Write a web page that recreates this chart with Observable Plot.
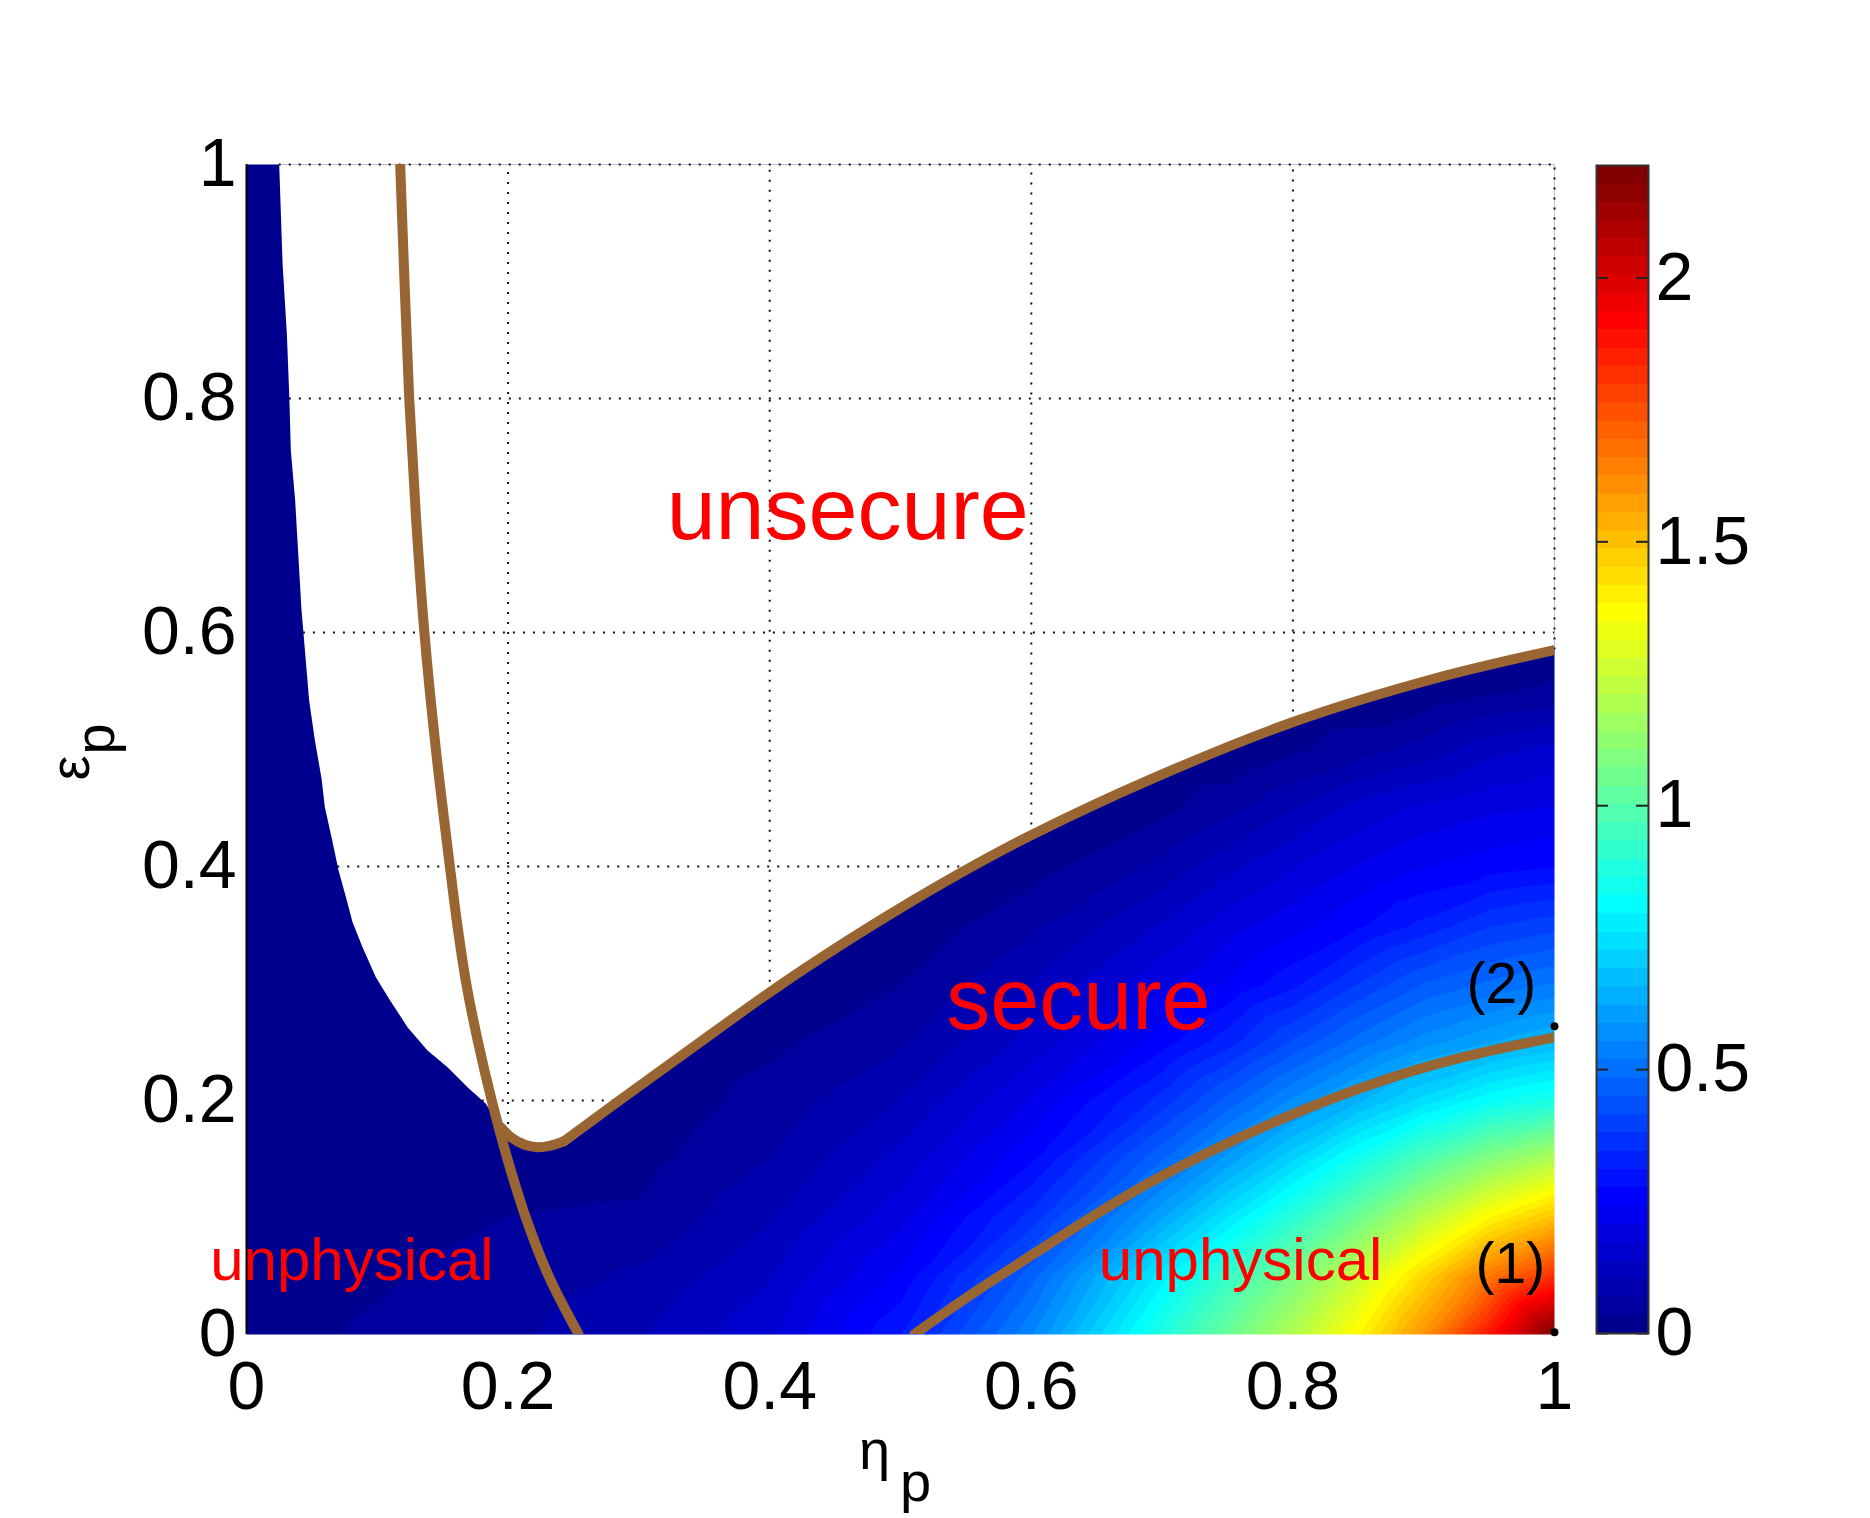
<!DOCTYPE html>
<html><head><meta charset="utf-8">
<script src="https://cdn.jsdelivr.net/npm/d3@7"></script>
<script src="https://cdn.jsdelivr.net/npm/@observablehq/plot@0.6"></script>
<style>
html,body{margin:0;padding:0;background:#fff;}
#wrap{display:flex;width:1870px;height:1518px;overflow:hidden;}
#wrap svg{flex:none;}
</style></head>
<body><div id="wrap"></div>
<script>
// ---------- data ----------
const etaGrid = [0, 0.1, 0.2, 0.3, 0.4, 0.5, 0.6, 0.7, 0.75, 0.8, 0.85, 0.9, 0.95, 1];
const epsGrid = [0, 0.05, 0.1, 0.15, 0.2, 0.25, 0.3, 0.35, 0.4, 0.45, 0.5, 0.55, 0.6, 0.8, 1];
// colour value at (eta, eps); one row per eps value, one column per eta value
const zValues = [
  [0.02, 0.04, 0.06, 0.10, 0.165, 0.31, 0.55, 0.88, 1.04, 1.2, 1.38, 1.6, 1.88, 2.2],
  [0.015, 0.03, 0.048, 0.075, 0.134, 0.25, 0.47, 0.78, 0.93, 1.08, 1.25, 1.45, 1.66, 1.82],
  [0.01, 0.02, 0.035, 0.04, 0.10, 0.195, 0.36, 0.62, 0.76, 0.9, 1.05, 1.22, 1.38, 1.5],
  [0.005, 0.01, 0.02, 0.022, 0.07, 0.15, 0.27, 0.48, 0.6, 0.72, 0.85, 0.98, 1.1, 1.2],
  [0, 0.005, 0.01, 0.005, 0.049, 0.105, 0.21, 0.36, 0.46, 0.56, 0.65, 0.74, 0.82, 0.87],
  [0, 0, 0, 0, 0.026, 0.064, 0.15, 0.26, 0.33, 0.42, 0.5, 0.57, 0.62, 0.66],
  [0, 0, 0, 0, 0, 0.034, 0.106, 0.20, 0.245, 0.30, 0.38, 0.45, 0.49, 0.52],
  [0, 0, 0, 0, 0, 0.008, 0.061, 0.14, 0.19, 0.23, 0.27, 0.32, 0.375, 0.40],
  [0, 0, 0, 0, 0, 0, 0.019, 0.08, 0.126, 0.17, 0.21, 0.24, 0.26, 0.275],
  [0, 0, 0, 0, 0, 0, 0, 0.024, 0.058, 0.10, 0.15, 0.18, 0.20, 0.21],
  [0, 0, 0, 0, 0, 0, 0, 0, 0, 0.028, 0.054, 0.083, 0.126, 0.15],
  [0, 0, 0, 0, 0, 0, 0, 0, 0, 0, 0, 0.006, 0.028, 0.043],
  [0, 0, 0, 0, 0, 0, 0, 0, 0, 0, 0, 0, 0, 0],
  [0, 0, 0, 0, 0, 0, 0, 0, 0, 0, 0, 0, 0, 0],
  [0, 0, 0, 0, 0, 0, 0, 0, 0, 0, 0, 0, 0, 0]
];
const colorMax = 2.213;               // top of the colour bar
const cbTicks = [0, 0.5, 1, 1.5, 2];
const xTicks = [0, 0.2, 0.4, 0.6, 0.8, 1];
const yTicks = [0, 0.2, 0.4, 0.6, 0.8, 1];

// left edge of the white (unsecure) region
const lbEps = [1.0, 0.915, 0.854, 0.8026, 0.7556, 0.7128, 0.62, 0.5419, 0.5077, 0.475, 0.4507, 0.425, 0.3966,
               0.3709, 0.3524, 0.331, 0.3054, 0.2855, 0.2627, 0.2427, 0.2285, 0.2114, 0.1972];
const lbEta = [0.025, 0.0276, 0.0309, 0.0327, 0.0339, 0.0372, 0.042, 0.0479, 0.0523, 0.0574, 0.0599, 0.065, 0.0704,
               0.0767, 0.0811, 0.0887, 0.0989, 0.1098, 0.1231, 0.1384, 0.1537, 0.169, 0.183];
// brown curve A (descending)
const curveAEta = [0.1175, 0.1208, 0.1244, 0.1295, 0.136, 0.1448, 0.1555, 0.1612, 0.168, 0.177, 0.1875, 0.1995, 0.2135, 0.231, 0.254];
const curveAEps = [1.0, 0.9, 0.8, 0.7, 0.6, 0.5, 0.4, 0.35, 0.3, 0.25, 0.2, 0.15, 0.1, 0.05, 0];
// brown curve C: valley then upper branch
const valleyEta = [0.1944, 0.2021, 0.2122, 0.2225, 0.2326, 0.2428];
const valleyEps = [0.1772, 0.1686, 0.1624, 0.1601, 0.1615, 0.1652];
const upperEta = [0.2428, 0.2938, 0.3574, 0.4, 0.4594, 0.5103, 0.5587, 0.6002, 0.6912, 0.8002, 0.9078, 1.0];
const upperEps = [0.1652, 0.2071, 0.2584, 0.2925, 0.3365, 0.3715, 0.4025, 0.427, 0.4745, 0.5235, 0.5605, 0.585];
// brown curve B (lower)
const curveBEta = [0.5103, 0.55, 0.5867, 0.6887, 0.7905, 0.867, 0.93, 1.0];
const curveBEps = [0, 0.031, 0.058, 0.1288, 0.1838, 0.2165, 0.237, 0.254];

// annotations (baseline positions)
const bigLabels = ["unsecure", "secure"];
const bigEta = [0.4596, 0.636];
const bigEps = [0.6795, 0.2615];
const midLabels = ["unphysical", "unphysical"];
const midEta = [0.0806, 0.76];
const midEps = [0.0462, 0.0462];
const numLabels = ["(2)", "(1)"];
const numEta = [0.9594, 0.9663];
const numEps = [0.283, 0.0444];
const dotEta = [1, 1];
const dotEps = [0.2635, 0.002];

// ---------- derived tables ----------
const zip = (xs, ys) => xs.map((x, i) => ({x, y: ys[i]}));
const points = epsGrid.flatMap((e, i) => etaGrid.map((h, j) => ({eta: h, eps: e, z: zValues[i][j]})));

// MATLAB jet(64)
const jet = d3.range(1, 65).map(i => {
  const r = i <= 24 ? 0 : i <= 40 ? (i - 24) / 16 : i <= 56 ? 1 : (72 - i) / 16;
  const g = i <= 8 ? 0 : i <= 24 ? (i - 8) / 16 : i <= 39 ? 1 : i <= 55 ? (56 - i) / 16 : 0;
  const b = i <= 8 ? (i + 8) / 16 : i <= 23 ? 1 : i <= 39 ? (40 - i) / 16 : 0;
  return `rgb(${Math.round(r * 255)},${Math.round(g * 255)},${Math.round(b * 255)})`;
});
const thresholds = d3.range(1, 64).map(k => k * colorMax / 64);
const colorScale = {type: "threshold", domain: thresholds, range: jet};

function interp(xs, ys, x) {
  const i = Math.max(1, Math.min(xs.length - 1, d3.bisectLeft(xs, x)));
  const t = (x - xs[i - 1]) / (xs[i] - xs[i - 1]);
  return ys[i - 1] + t * (ys[i] - ys[i - 1]);
}
const lbEpsAsc = lbEps.slice().reverse(), lbEtaAsc = lbEta.slice().reverse();
const topEps = upperEps[upperEps.length - 1];
const vGrid = xTicks.filter(g => g > 0).map(g => ({
  x: g, y1: g <= valleyEta[valleyEta.length - 1] ? interp(valleyEta, valleyEps, g) : interp(upperEta, upperEps, g), y2: 1
}));
const hGrid = yTicks.filter(g => g > 0).map(g => ({
  y: g, x1: interp(lbEpsAsc, lbEtaAsc, g), x2: g >= topEps ? 1 : interp(upperEps, upperEta, g)
}));

const whitePoly = [
  ...zip(lbEta, lbEps),
  ...zip(valleyEta, valleyEps),
  ...zip(upperEta, upperEps).slice(1),
  {x: 1, y: 1}
];

const brown = "#996633";
const font = "'Liberation Sans', Arial, Helvetica, sans-serif";
const lab = {fontSize: 56, fill: "#000", textAnchor: "middle", lineAnchor: "middle"};

const main = Plot.plot({
  width: 1580, height: 1518,
  marginLeft: 246, marginRight: 26, marginTop: 164, marginBottom: 184,
  x: {domain: [0, 1]},
  y: {domain: [0, 1]},
  color: colorScale,
  style: {fontFamily: font, background: "white", overflow: "visible"},
  marks: [
    Plot.raster(points, {x: "eta", y: "eps", fill: "z", interpolate: "barycentric",
      x1: 0, x2: 1, y1: 0, y2: 1, pixelSize: 1}),
    Plot.line(whitePoly, {x: "x", y: "y", fill: "white", stroke: "none"}),
    Plot.ruleX(vGrid, {x: "x", y1: "y1", y2: "y2", stroke: "#111", strokeWidth: 2, strokeDasharray: "2,8"}),
    Plot.ruleY(hGrid, {y: "y", x1: "x1", x2: "x2", stroke: "#111", strokeWidth: 2, strokeDasharray: "2,8"}),
    Plot.ruleX([0], {stroke: "#000", strokeWidth: 2}),
    Plot.line(zip(curveAEta, curveAEps), {x: "x", y: "y", stroke: brown, strokeWidth: 10, curve: "catmull-rom", clip: true}),
    Plot.line(zip(valleyEta, valleyEps), {x: "x", y: "y", stroke: brown, strokeWidth: 10, curve: "catmull-rom", clip: true}),
    Plot.line(zip(upperEta, upperEps), {x: "x", y: "y", stroke: brown, strokeWidth: 10, curve: "catmull-rom", clip: true}),
    Plot.line(zip(curveBEta, curveBEps), {x: "x", y: "y", stroke: brown, strokeWidth: 10, curve: "catmull-rom", clip: true}),
    Plot.dot(zip(dotEta, dotEps), {x: "x", y: "y", r: 4, fill: "#000", stroke: "none"}),
    Plot.text(bigLabels, {x: (d, i) => bigEta[i], y: (d, i) => bigEps[i], text: d => d,
      fill: "#ff0000", fontSize: 88, dy: -0.32 * 88}),
    Plot.text(midLabels, {x: (d, i) => midEta[i], y: (d, i) => midEps[i], text: d => d,
      fill: "#ff0000", fontSize: 60, dy: -0.32 * 60}),
    Plot.text(numLabels, {x: (d, i) => numEta[i], y: (d, i) => numEps[i], text: d => d,
      fill: "#000", fontSize: 57, dy: -0.32 * 57}),
    Plot.axisX(xTicks, {tickSize: 0, tickPadding: 26, fontSize: 68, label: null, tickFormat: d => String(d)}),
    Plot.axisY(yTicks, {tickSize: 0, tickPadding: 10, fontSize: 68, label: null, tickFormat: d => String(d)}),
    Plot.text(["η"], {...lab, frameAnchor: "bottom", dx: -26, dy: 1468 - 0.32 * 56 - 1334}),
    Plot.text(["p"], {...lab, frameAnchor: "bottom", dx: 15, dy: 1500 - 0.32 * 56 - 1334}),
    Plot.text(["ε"], {...lab, frameAnchor: "left", rotate: -90, dx: 88 - 0.32 * 56 - 246, dy: 18.5}),
    Plot.text(["p"], {...lab, frameAnchor: "left", rotate: -90, dx: 113 - 0.32 * 56 - 246, dy: -10.5})
  ]
});

const bands = d3.range(64).map(i => ({lo: i * colorMax / 64, hi: (i + 1) * colorMax / 64, mid: (i + 0.5) * colorMax / 64}));
const bar = Plot.plot({
  width: 290, height: 1518,
  marginLeft: 16, marginRight: 222, marginTop: 165, marginBottom: 185,
  x: {domain: [0, 1], axis: null},
  y: {domain: [0, colorMax], axis: null},
  color: colorScale,
  style: {fontFamily: font, background: "white", overflow: "visible"},
  marks: [
    Plot.rect(bands, {x1: 0, x2: 1, y1: "lo", y2: "hi", fill: "mid", shapeRendering: "crispEdges"}),
    Plot.ruleY(cbTicks, {x1: 0, x2: 0.23, stroke: "#222", strokeWidth: 2}),
    Plot.ruleY(cbTicks, {x1: 0.77, x2: 1, stroke: "#222", strokeWidth: 2}),
    Plot.frame({stroke: "#333", strokeWidth: 2}),
    Plot.axisY(cbTicks, {anchor: "right", tickSize: 0, tickPadding: 7, fontSize: 68, label: null, tickFormat: d => String(d)})
  ]
});

const wrap = document.getElementById("wrap");
wrap.appendChild(main);
wrap.appendChild(bar);
</script>
</body></html>
